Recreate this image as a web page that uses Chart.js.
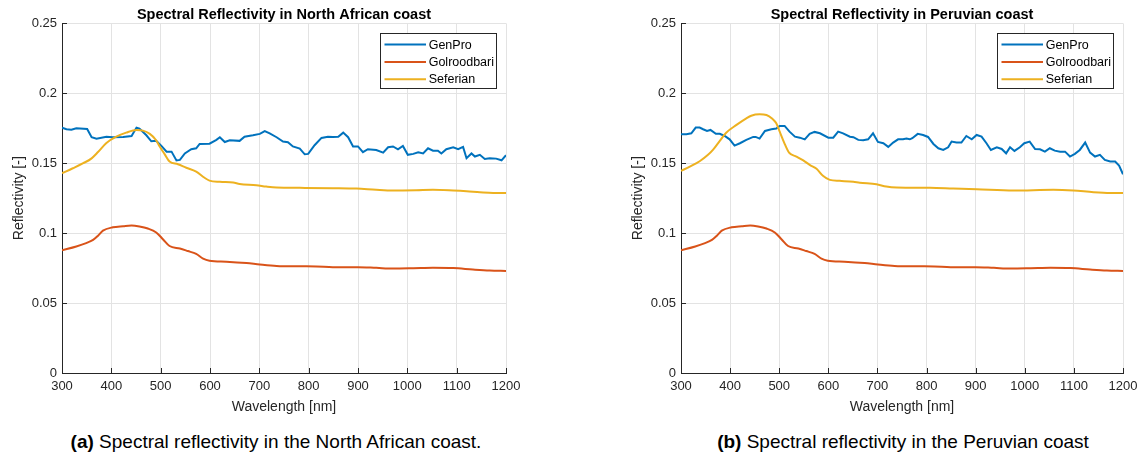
<!DOCTYPE html>
<html>
<head>
<meta charset="utf-8">
<title>Spectral reflectivity</title>
<script src="https://cdn.jsdelivr.net/npm/chart.js@4/dist/chart.umd.min.js"></script>
<style>
  html, body { margin: 0; padding: 0; background: #fff; }
  body { width: 1145px; height: 457px; position: relative; overflow: hidden;
         font-family: "Liberation Sans", Arial, sans-serif; }
  canvas { position: absolute; top: 0; }
  #chartNaf { left: 0; }
  #chartPeru { left: 619px; }
  .cap { position: absolute; top: 431px; font-size: 19px; color: #000;
         white-space: nowrap; transform: translateX(-50%); }
</style>
</head>
<body>
<canvas id="chartNaf" width="530" height="425"></canvas>
<canvas id="chartPeru" width="526" height="425"></canvas>
<div class="cap" style="left:276px"><b>(a)</b> Spectral reflectivity in the North African coast.</div>
<div class="cap" style="left:903px"><b>(b)</b> Spectral reflectivity in the Peruvian coast</div>
<script>
// Axis ticks
const xTicks = [300, 400, 500, 600, 700, 800, 900, 1000, 1100, 1200];
const xTickLabels = ['300', '400', '500', '600', '700', '800', '900', '1000', '1100', '1200'];
const yTicks = [0, 0.05, 0.1, 0.15, 0.2, 0.25];
const yTickLabels = ['0', '0.05', '0.1', '0.15', '0.2', '0.25'];

const seriesNames = ['GenPro', 'Golroodbari', 'Seferian'];

// North African coast - GenPro
const genproNafWl = [300,309,319,329,351,360,370,390,403,424,441,451,457,471,481,491,501,512,522,532,539,549,562,572,579,599,613,620,630,640,660,670,687,701,711,721,735,748,758,768,782,792,799,812,826,839,849,860,870,880,890,900,910,920,937,951,961,971,981,991,1001,1012,1022,1032,1042,1052,1062,1069,1079,1093,1103,1113,1120,1130,1137,1147,1157,1167,1180,1191,1200];
const genproNafR = [0.1755,0.1743,0.1740,0.1750,0.1745,0.1686,0.1676,0.1690,0.1686,0.1688,0.1695,0.1755,0.1748,0.1700,0.1657,0.1660,0.1626,0.1583,0.1583,0.1520,0.1524,0.1570,0.1600,0.1607,0.1638,0.1640,0.1667,0.1686,0.1652,0.1664,0.1660,0.1690,0.1700,0.1710,0.1730,0.1714,0.1686,0.1655,0.1650,0.1620,0.1605,0.1564,0.1567,0.1629,0.1681,0.1690,0.1688,0.1690,0.1719,0.1686,0.1620,0.1620,0.1579,0.1600,0.1595,0.1576,0.1614,0.1620,0.1600,0.1624,0.1560,0.1567,0.1579,0.1570,0.1607,0.1590,0.1590,0.1570,0.1600,0.1614,0.1600,0.1617,0.1536,0.1570,0.1548,0.1560,0.1531,0.1536,0.1533,0.1521,0.1557];

// North African coast - Seferian
const seferianNafWl = [300,322,343,360,373,390,410,430,451,464,478,490,498,508,518,535,552,572,589,599,620,647,660,694,714,735,782,849,897,937,971,1018,1052,1093,1120,1147,1174,1200];
const seferianNafR = [0.1429,0.1464,0.1500,0.1535,0.1580,0.1645,0.1690,0.1719,0.1738,0.1733,0.1710,0.1668,0.1620,0.1565,0.1512,0.1493,0.1468,0.1440,0.1396,0.1376,0.1367,0.1362,0.1352,0.1343,0.1333,0.1326,0.1324,0.1322,0.1319,0.1310,0.1305,0.1307,0.1310,0.1305,0.1300,0.1293,0.1288,0.1288];

// Golroodbari (same in both regions)
const golroodbariWl = [300,329,349,363,373,383,403,424,441,457,474,491,505,518,539,555,572,586,599,633,674,701,735,782,816,849,900,937,971,1012,1052,1093,1133,1167,1200];
const golroodbariR = [0.0878,0.0905,0.0929,0.0952,0.0982,0.1018,0.1042,0.1050,0.1055,0.1048,0.1033,0.1005,0.0955,0.0908,0.0890,0.0872,0.0852,0.0818,0.0803,0.0796,0.0786,0.0776,0.0766,0.0763,0.0762,0.0757,0.0757,0.0752,0.0747,0.0749,0.0752,0.0750,0.0740,0.0733,0.0730];

// Peruvian coast - GenPro
const genproPeruWl = [300,311,321,330,338,345,353,360,371,379,389,399,409,420,433,447,452,460,471,484,494,501,511,521,532,542,552,562,572,583,600,610,620,630,644,651,661,671,681,691,701,712,722,732,742,752,759,766,771,782,793,803,814,824,834,844,851,861,871,881,892,902,912,922,931,943,953,962,970,979,990,999,1010,1021,1031,1041,1051,1061,1072,1082,1092,1102,1112,1123,1133,1143,1153,1163,1174,1184,1192,1200];
const genproPeruR = [0.1707,0.1707,0.1714,0.1755,0.1755,0.1743,0.1731,0.1738,0.1710,0.1710,0.1695,0.1671,0.1626,0.1643,0.1667,0.1688,0.1688,0.1676,0.1731,0.1743,0.1748,0.1767,0.1767,0.1726,0.1690,0.1683,0.1671,0.1710,0.1724,0.1714,0.1683,0.1683,0.1726,0.1714,0.1690,0.1686,0.1667,0.1664,0.1671,0.1714,0.1652,0.1643,0.1617,0.1648,0.1671,0.1671,0.1676,0.1671,0.1679,0.1710,0.1702,0.1688,0.1638,0.1607,0.1595,0.1614,0.1655,0.1648,0.1648,0.1695,0.1671,0.1702,0.1690,0.1643,0.1595,0.1614,0.1602,0.1571,0.1614,0.1588,0.1614,0.1643,0.1655,0.1602,0.1600,0.1583,0.1607,0.1590,0.1583,0.1583,0.1548,0.1567,0.1595,0.1648,0.1576,0.1548,0.1560,0.1524,0.1512,0.1512,0.1483,0.1421];

// Peruvian coast - Seferian
const seferianPeruWl = [300,318,338,355,365,379,392,413,433,443,460,474,486,494,501,510,520,535,549,562,576,589,603,623,651,664,698,718,739,807,854,902,977,1058,1099,1140,1174,1200];
const seferianPeruR = [0.1445,0.1476,0.1514,0.1560,0.1595,0.1660,0.1718,0.1774,0.1821,0.1840,0.1850,0.1845,0.1818,0.1786,0.1726,0.1648,0.1576,0.1548,0.1520,0.1488,0.1460,0.1410,0.1381,0.1374,0.1367,0.1360,0.1350,0.1333,0.1326,0.1324,0.1319,0.1314,0.1305,0.1310,0.1305,0.1293,0.1288,0.1288];

const lineColors = ['#0072BD', '#D95319', '#EDB120'];
const axisColor = '#262626';
const gridColor = '#e3e3e3';
const FONT = '"Liberation Sans", Arial, Helvetica, sans-serif';

function toPoints(wl, r) { return wl.map((w, i) => ({ x: w, y: r[i] })); }
function labelFor(ticks, labels, v) {
  const i = ticks.findIndex(t => Math.abs(t - v) < 1e-9);
  return i < 0 ? '' : labels[i];
}

// Short tick marks pointing into the plot area
const innerTicks = {
  id: 'innerTicks',
  beforeDatasetsDraw(chart) {
    const { ctx, chartArea, scales } = chart;
    const len = 5;
    ctx.save();
    ctx.strokeStyle = axisColor;
    ctx.lineWidth = 1;
    ctx.beginPath();
    xTicks.forEach(v => {
      const px = Math.round(scales.x.getPixelForValue(v)) + 0.5;
      ctx.moveTo(px, chartArea.bottom);
      ctx.lineTo(px, chartArea.bottom - len);
    });
    yTicks.forEach(v => {
      const py = Math.round(scales.y.getPixelForValue(v)) + 0.5;
      ctx.moveTo(chartArea.left, py);
      ctx.lineTo(chartArea.left + len, py);
    });
    ctx.stroke();
    ctx.restore();
  }
};

// Boxed legend in the upper right corner of the plot area
const boxLegend = {
  id: 'boxLegend',
  afterDatasetsDraw(chart) {
    const { ctx, chartArea } = chart;
    const w = 116, h = 55;
    const x0 = Math.round(chartArea.right - 10.5 - w);
    const y0 = Math.round(chartArea.top + 9.5);
    ctx.save();
    ctx.fillStyle = '#fff';
    ctx.fillRect(x0, y0, w, h);
    ctx.strokeStyle = axisColor;
    ctx.lineWidth = 1;
    ctx.strokeRect(x0 + 0.5, y0 + 0.5, w, h);
    ctx.font = '12.5px ' + FONT;
    ctx.textBaseline = 'middle';
    ctx.textAlign = 'left';
    chart.data.datasets.forEach((ds, i) => {
      const cy = y0 + 11.6 + i * 17.35;
      ctx.strokeStyle = ds.borderColor;
      ctx.lineWidth = 2;
      ctx.beginPath();
      ctx.moveTo(x0 + 4.5, cy);
      ctx.lineTo(x0 + 46, cy);
      ctx.stroke();
      ctx.fillStyle = '#000';
      ctx.fillText(ds.label, x0 + 48.7, cy + 0.5);
    });
    ctx.restore();
  }
};

function makeChart(id, title, genWl, genR, sefWl, sefR, padRight) {
  const datasets = [
    { label: seriesNames[0], data: toPoints(genWl, genR), borderColor: lineColors[0], order: 3, tension: 0 },
    { label: seriesNames[1], data: toPoints(golroodbariWl, golroodbariR), borderColor: lineColors[1], order: 2, cubicInterpolationMode: 'monotone' },
    { label: seriesNames[2], data: toPoints(sefWl, sefR), borderColor: lineColors[2], order: 1, cubicInterpolationMode: 'monotone' }
  ].map(d => Object.assign({ borderWidth: 2, pointRadius: 0, fill: false, backgroundColor: d.borderColor }, d));

  return new Chart(document.getElementById(id), {
    type: 'line',
    data: { datasets },
    plugins: [innerTicks, boxLegend],
    options: {
      responsive: false,
      animation: false,
      devicePixelRatio: 1,
      layout: { padding: { left: 0, right: padRight, top: 0, bottom: 0 } },
      plugins: {
        legend: { display: false },
        tooltip: { enabled: false },
        title: {
          display: true,
          text: title,
          fullSize: false,
          color: '#000',
          font: { family: FONT, size: 14.5, weight: 'bold' },
          padding: { top: 6, bottom: 0 }
        }
      },
      scales: {
        x: {
          type: 'linear',
          min: 300, max: 1200,
          afterBuildTicks: s => { s.ticks = xTicks.map(v => ({ value: v })); },
          afterFit: s => { s.height = 52; },
          ticks: { color: axisColor, font: { family: FONT, size: 13 }, padding: 6,
                   maxRotation: 0, autoSkip: false,
                   callback: v => labelFor(xTicks, xTickLabels, v) },
          grid: { color: gridColor, drawTicks: false, lineWidth: 1 },
          border: { color: axisColor, width: 1 },
          title: { display: true, text: 'Wavelength [nm]', color: axisColor,
                   font: { family: FONT, size: 14 }, padding: { top: 0, bottom: 9 } }
        },
        y: {
          type: 'linear',
          min: 0, max: 0.25,
          afterBuildTicks: s => { s.ticks = yTicks.map(v => ({ value: v })); },
          afterFit: s => { s.width = 62; },
          ticks: { color: axisColor, font: { family: FONT, size: 13 }, padding: 5,
                   callback: v => labelFor(yTicks, yTickLabels, v) },
          grid: { color: gridColor, drawTicks: false, lineWidth: 1 },
          border: { color: axisColor, width: 1 },
          title: { display: true, text: 'Reflectivity [-]', color: axisColor,
                   font: { family: FONT, size: 14 }, padding: { top: 11, bottom: 0 } }
        }
      }
    }
  });
}

makeChart('chartNaf', 'Spectral Reflectivity in North African coast',
          genproNafWl, genproNafR, seferianNafWl, seferianNafR, 24);
makeChart('chartPeru', 'Spectral Reflectivity in Peruvian coast',
          genproPeruWl, genproPeruR, seferianPeruWl, seferianPeruR, 22);
</script>
</body>
</html>
